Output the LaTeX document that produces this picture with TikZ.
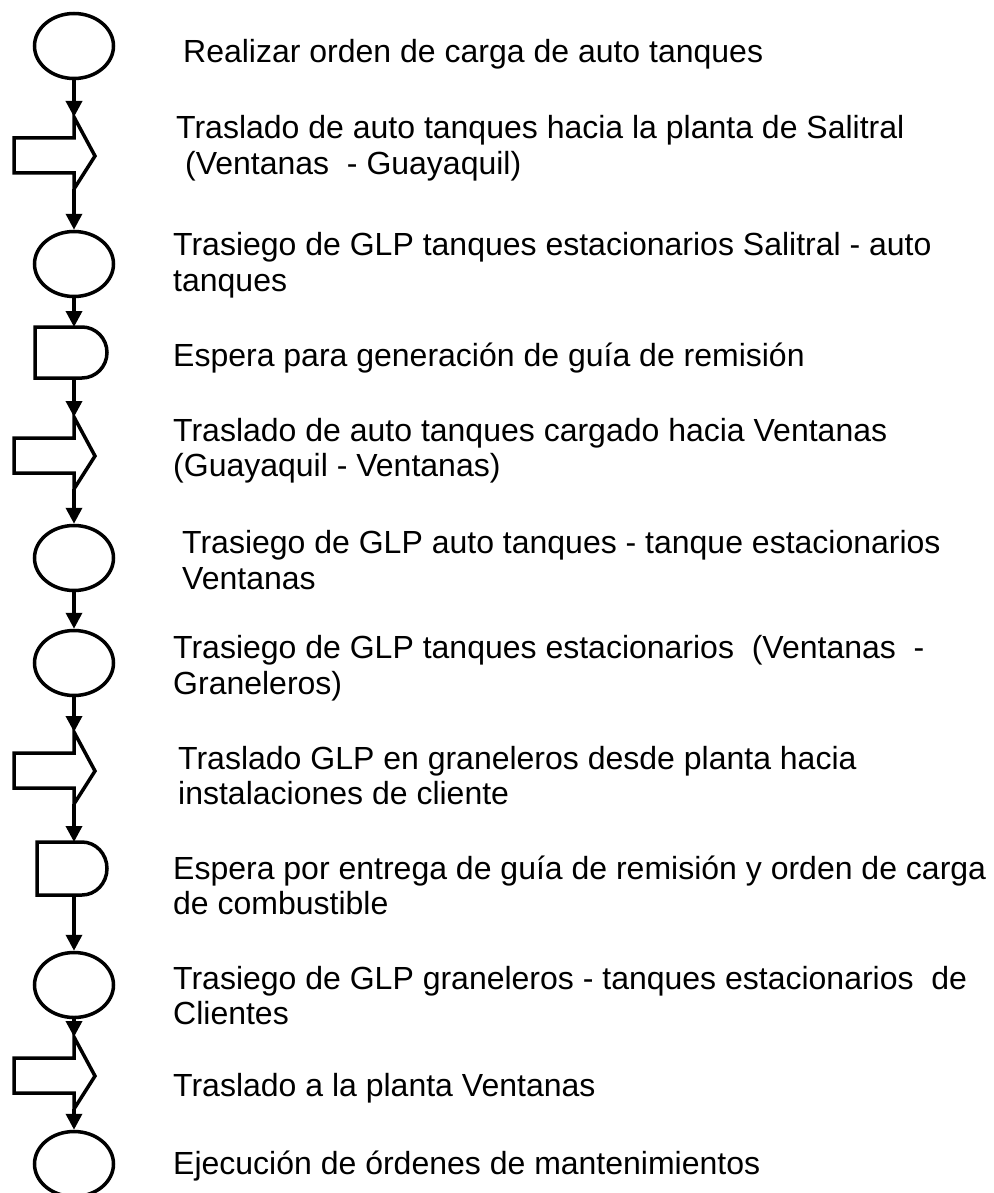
\documentclass[tikz,border=0pt]{standalone}
\usepackage{fontspec}
\setmainfont{Liberation Sans}
\usetikzlibrary{arrows.meta,shapes.geometric}
\newcommand\transportshape[2]{%
  \draw[shp] (14,#2+21) -- (74,#2+21) -- (74,#2) -- (95,#2+39) -- (74,#2+72) -- (74,#2+56) -- (14,#2+56) -- cycle;
  \coordinate (#1t) at (74,#2);
  \coordinate (#1b) at (74,#2+72);}
\newcommand\delayshape[5]{% name, left, top, bottom, half height
  \draw[shp] (82,#3) -- (#2,#3) -- (#2,#4) -- (82,#4) arc[start angle=90, end angle=-90, x radius=25, y radius=#5] -- cycle;
  \coordinate (#1t) at (74,#3);
  \coordinate (#1b) at (74,#4);}
\begin{document}
\begin{tikzpicture}[x=1pt,y=-1pt,
  shp/.style={draw=black, line width=3.5pt},
  oper/.style={ellipse, draw=black, line width=3.5pt, minimum width=79pt, minimum height=65pt, inner sep=0pt},
  conn/.style={line width=3.5pt, -{Triangle[length=16pt,width=16pt]}},
  lbl/.style={anchor=base west, inner sep=0pt, font=\fontsize{32pt}{36pt}\selectfont}]
\useasboundingbox (0,0) rectangle (993,1193);
\clip (0,0) rectangle (993,1193);

% shapes
\node[oper] (c1) at (74,46) {};
\transportshape{tr1}{117}
\node[oper] (c2) at (74,264) {};
\delayshape{d1}{35}{327}{378}{25.5}
\transportshape{tr2}{417}
\node[oper] (c3) at (74,558) {};
\node[oper] (c4) at (74,663) {};
\transportshape{tr3}{732}
\delayshape{d2}{37}{842}{895}{26.5}
\node[oper] (c5) at (74,985) {};
\transportshape{tr4}{1037}
\node[oper] (c6) at (74,1164) {};

% connectors
\draw[conn] (c1.south) -- (tr1t);
\draw[conn] (tr1b) -- (c2.north);
\draw[conn] (c2.south) -- (d1t);
\draw[conn] (d1b) -- (tr2t);
\draw[conn] (tr2b) -- (c3.north);
\draw[conn] (c3.south) -- (c4.north);
\draw[conn] (c4.south) -- (tr3t);
\draw[conn] (tr3b) -- (d2t);
\draw[conn] (d2b) -- (c5.north);
\draw[conn] (c5.south) -- (tr4t);
\draw[conn] (tr4b) -- (c6.north);

% labels
\node[lbl] (l1) at (183,63) {Realizar orden de carga de auto tanques};
\node[lbl] (l2a) at (176,139) {Traslado de auto tanques hacia la planta de Salitral};
\node[lbl] (l2b) at (176,175) {\hspace*{8.9pt}(Ventanas\ \ - Guayaquil)};
\node[lbl] (l3a) at (173,255) {Trasiego de GLP tanques estacionarios Salitral - auto};
\node[lbl] (l3b) at (173,291) {tanques};
\node[lbl] (l4) at (173,366) {Espera para generación de guía de remisión};
\node[lbl] (l5a) at (173,441) {Traslado de auto tanques cargado hacia Ventanas};
\node[lbl] (l5b) at (173,476) {(Guayaquil - Ventanas)};
\node[lbl] (l6a) at (182,553) {Trasiego de GLP auto tanques - tanque estacionarios};
\node[lbl] (l6b) at (182,589) {Ventanas};
\node[lbl] (l7a) at (173,658) {Trasiego de GLP tanques estacionarios\ \ (Ventanas\ \ -};
\node[lbl] (l7b) at (173,694) {Graneleros)};
\node[lbl] (l8a) at (178,769) {Traslado GLP en graneleros desde planta hacia};
\node[lbl] (l8b) at (178,804) {instalaciones de cliente};
\node[lbl] (l9a) at (173,879) {Espera por entrega de guía de remisión y orden de carga};
\node[lbl] (l9b) at (173,914) {de combustible};
\node[lbl] (l10a) at (173,989) {Trasiego de GLP graneleros - tanques estacionarios\ \ de};
\node[lbl] (l10b) at (173,1024) {Clientes};
\node[lbl] (l11) at (173,1096) {Traslado a la planta Ventanas};
\node[lbl] (l12) at (173,1174) {Ejecución de órdenes de mantenimientos};
\end{tikzpicture}
\end{document}
